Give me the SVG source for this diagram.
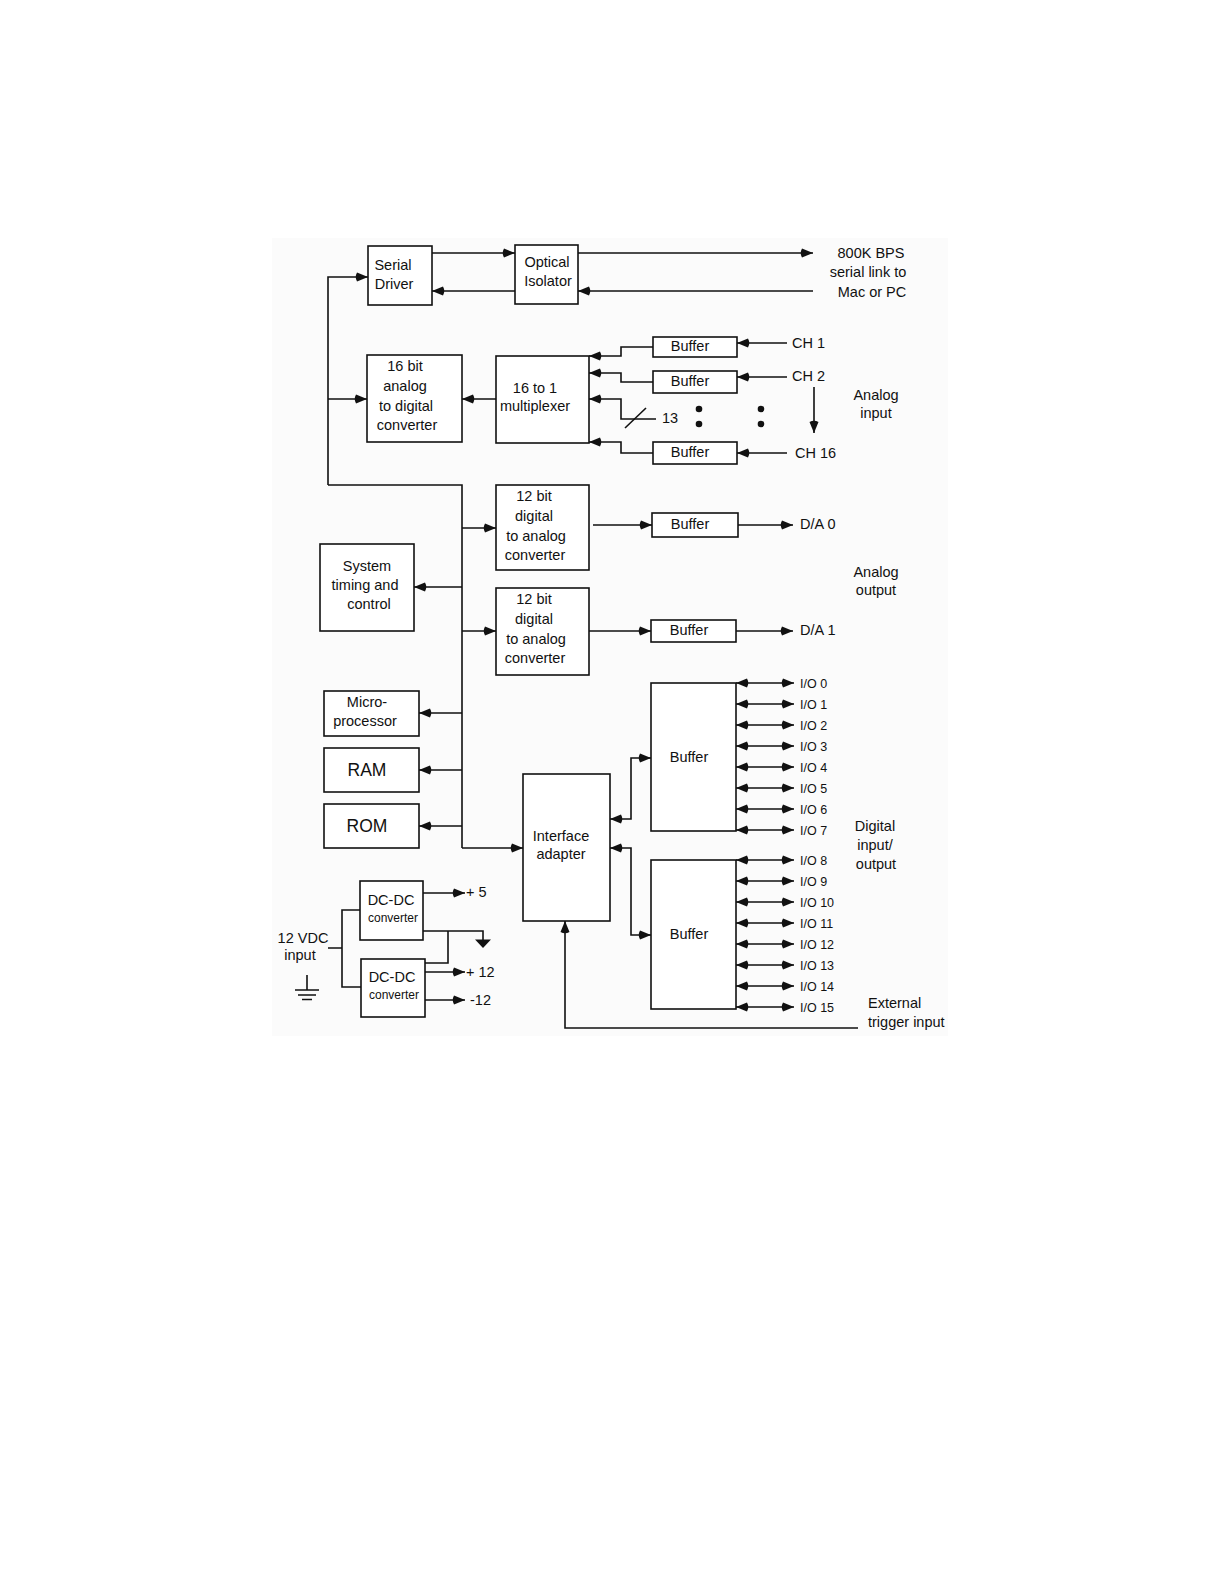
<svg xmlns="http://www.w3.org/2000/svg" width="1224" height="1584" viewBox="0 0 1224 1584">
<style>
text{font-family:"Liberation Sans",Arial,sans-serif;font-size:14.5px;fill:#111;text-anchor:middle}
.l{text-anchor:start}
.s{font-size:12px}
.io{font-size:12.5px;text-anchor:start}
.big{font-size:17.5px}
rect{fill:#fff;stroke:#111;stroke-width:1.6}
.c path,.c line{fill:none;stroke:#111;stroke-width:1.6}
.a{marker-end:url(#ah)}
.b{marker-start:url(#ah2);marker-end:url(#ah)}
</style>
<defs>
<marker id="ah" viewBox="-2 0 14 10" refX="12" refY="5" markerWidth="14" markerHeight="10" markerUnits="userSpaceOnUse" orient="auto"><path d="M1,0.5 L12,5 L1,9.5 Q-1.5,5 1,0.5 z" fill="#111"/></marker>
<marker id="ah2" viewBox="-2 0 14 10" refX="12" refY="5" markerWidth="14" markerHeight="10" markerUnits="userSpaceOnUse" orient="auto-start-reverse"><path d="M1,0.5 L12,5 L1,9.5 Q-1.5,5 1,0.5 z" fill="#111"/></marker>
</defs>
<rect x="272" y="238" width="676" height="798" style="fill:#fbfbfb;stroke:none"/>
<g class="c" id="connectors">
<path class="a" d="M432,253 H515"/>
<path class="a" d="M515,291 H432"/>
<path class="a" d="M578,253 H813"/>
<path class="a" d="M813,291 H578"/>
<path class="a" d="M328,485 V277 H368"/>
<path class="a" d="M328,399 H367"/>
<path d="M328,485 H462 V848"/>
<path class="a" d="M496,399 H462"/>
<path class="a" d="M653,347 H621 V356 H589"/>
<path class="a" d="M653,382 H621 V373 H589"/>
<path class="a" d="M656,419 H621 V399 H589"/>
<line x1="625" y1="428" x2="646" y2="408"/>
<path class="a" d="M653,453 H621 V442 H589"/>
<path class="a" d="M787,343 H737"/>
<path class="a" d="M787,377 H737"/>
<path class="a" d="M787,453 H737"/>
<path class="a" d="M814,387 V433"/>
<path class="a" d="M462,528 H496"/>
<path class="a" d="M462,587 H414"/>
<path class="a" d="M462,631 H496"/>
<path class="a" d="M462,713 H419"/>
<path class="a" d="M462,770 H419"/>
<path class="a" d="M462,826 H419"/>
<path class="a" d="M462,848 H523"/>
<path class="a" d="M593,525 H652"/>
<path class="a" d="M738,525 H793"/>
<path class="a" d="M589,631 H651"/>
<path class="a" d="M736,631 H793"/>
<path class="b" d="M610,819 H631 V758 H651"/>
<path class="b" d="M610,848 H631 V935 H651"/>
<path class="b" d="M736,683 H794"/>
<path class="b" d="M736,704 H794"/>
<path class="b" d="M736,725 H794"/>
<path class="b" d="M736,746 H794"/>
<path class="b" d="M736,767 H794"/>
<path class="b" d="M736,788 H794"/>
<path class="b" d="M736,809 H794"/>
<path class="b" d="M736,830 H794"/>
<path class="b" d="M736,860 H794"/>
<path class="b" d="M736,881 H794"/>
<path class="b" d="M736,902 H794"/>
<path class="b" d="M736,923 H794"/>
<path class="b" d="M736,944 H794"/>
<path class="b" d="M736,965 H794"/>
<path class="b" d="M736,986 H794"/>
<path class="b" d="M736,1007 H794"/>
<path class="a" d="M858,1028 H565 V921"/>
<path d="M328,948 H342 M360,910 H342 V987 H361"/>
<path class="a" d="M423,893 H465"/>
<path d="M423,931 H483 V940"/>
<path d="M425,963 H448 V931"/>
<path class="a" d="M425,972 H465"/>
<path class="a" d="M425,1000 H465"/>
<path d="M307,975 V990 M295,990 H319 M298,995 H316 M302,999.5 H312"/>
</g>
<g fill="#111">
<polygon points="475,939.5 491,939.5 483,948"/>
<circle cx="699" cy="409" r="3.3"/><circle cx="699" cy="424" r="3.3"/>
<circle cx="761" cy="409" r="3.3"/><circle cx="761" cy="424" r="3.3"/>
</g>
<g id="serial-driver"><rect x="368" y="246" width="64" height="59"/><text x="393" y="270">Serial</text><text x="394" y="289">Driver</text></g>
<g id="optical-isolator"><rect x="515" y="245" width="63" height="59"/><text x="547" y="267">Optical</text><text x="548" y="286">Isolator</text></g>
<g id="adc"><rect x="367" y="355" width="95" height="87"/><text x="405" y="371">16 bit</text><text x="405" y="391">analog</text><text x="406" y="411">to digital</text><text x="407" y="430">converter</text></g>
<g id="mux"><rect x="496" y="356" width="93" height="87"/><text x="535" y="393">16 to 1</text><text x="535" y="411">multiplexer</text></g>
<g id="buf-ch1"><rect x="653" y="337" width="84" height="20"/><text x="690" y="351">Buffer</text></g>
<g id="buf-ch2"><rect x="653" y="371" width="84" height="22"/><text x="690" y="386">Buffer</text></g>
<g id="buf-ch16"><rect x="653" y="442" width="84" height="22"/><text x="690" y="457">Buffer</text></g>
<g id="dac0"><rect x="496" y="485" width="93" height="85"/><text x="534" y="501">12 bit</text><text x="534" y="521">digital</text><text x="536" y="541">to  analog</text><text x="535" y="560">converter</text></g>
<g id="dac1"><rect x="496" y="588" width="93" height="87"/><text x="534" y="604">12 bit</text><text x="534" y="624">digital</text><text x="536" y="644">to  analog</text><text x="535" y="663">converter</text></g>
<g id="buf-da0"><rect x="652" y="513" width="86" height="24"/><text x="690" y="529">Buffer</text></g>
<g id="buf-da1"><rect x="651" y="620" width="85" height="22"/><text x="689" y="635">Buffer</text></g>
<g id="system-timing"><rect x="320" y="544" width="94" height="87"/><text x="367" y="571">System</text><text x="365" y="590">timing and</text><text x="369" y="609">control</text></g>
<g id="microprocessor"><rect x="324" y="691" width="95" height="45"/><text x="367" y="707">Micro-</text><text x="365" y="726">processor</text></g>
<g id="ram"><rect x="324" y="748" width="95" height="44"/><text class="big" x="367" y="776">RAM</text></g>
<g id="rom"><rect x="324" y="804" width="95" height="44"/><text class="big" x="367" y="832">ROM</text></g>
<g id="interface-adapter"><rect x="523" y="774" width="87" height="147"/><text x="561" y="841">Interface</text><text x="561" y="859">adapter</text></g>
<g id="dio-buffer-1"><rect x="651" y="683" width="85" height="148"/><text x="689" y="762">Buffer</text></g>
<g id="dio-buffer-2"><rect x="651" y="860" width="85" height="149"/><text x="689" y="939">Buffer</text></g>
<g id="dcdc-1"><rect x="360" y="881" width="63" height="59"/><text x="391" y="905">DC-DC</text><text class="s" x="393" y="922">converter</text></g>
<g id="dcdc-2"><rect x="361" y="959" width="64" height="58"/><text x="392" y="982">DC-DC</text><text class="s" x="394" y="999">converter</text></g>
<g id="labels">
<text x="871" y="258">800K BPS</text><text x="868" y="277">serial link to</text><text x="872" y="297">Mac or PC</text>
<text class="l" x="792" y="348">CH 1</text><text class="l" x="792" y="381">CH 2</text><text class="l" x="795" y="458">CH 16</text>
<text class="l" x="662" y="423">13</text>
<text x="876" y="400">Analog</text><text x="876" y="418">input</text>
<text class="l" x="800" y="529">D/A 0</text><text class="l" x="800" y="635">D/A 1</text>
<text x="876" y="577">Analog</text><text x="876" y="595">output</text>
<text x="875" y="831">Digital</text><text x="875" y="850">input/</text><text x="876" y="869">output</text>
<text class="l" x="868" y="1008">External</text><text class="l" x="868" y="1027">trigger input</text>
<text x="303" y="943">12 VDC</text><text x="300" y="960">input</text>
<text class="l" x="466" y="897">+ 5</text><text class="l" x="466" y="977">+ 12</text><text class="l" x="470" y="1005">-12</text>
<text class="io" x="800" y="688">I/O 0</text><text class="io" x="800" y="709">I/O 1</text><text class="io" x="800" y="730">I/O 2</text><text class="io" x="800" y="751">I/O 3</text>
<text class="io" x="800" y="772">I/O 4</text><text class="io" x="800" y="793">I/O 5</text><text class="io" x="800" y="814">I/O 6</text><text class="io" x="800" y="835">I/O 7</text>
<text class="io" x="800" y="865">I/O 8</text><text class="io" x="800" y="886">I/O 9</text><text class="io" x="800" y="907">I/O 10</text><text class="io" x="800" y="928">I/O 11</text>
<text class="io" x="800" y="949">I/O 12</text><text class="io" x="800" y="970">I/O 13</text><text class="io" x="800" y="991">I/O 14</text><text class="io" x="800" y="1012">I/O 15</text>
</g>
</svg>
